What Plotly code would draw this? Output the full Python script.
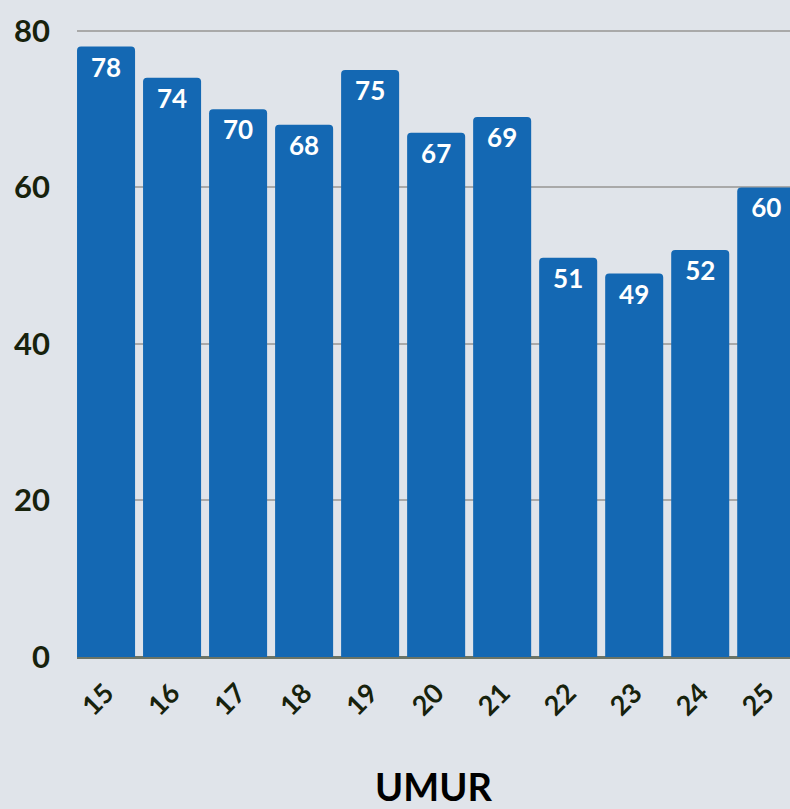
import plotly.graph_objects as go

ages = ["15", "16", "17", "18", "19", "20", "21", "22", "23", "24", "25"]
values = [78, 74, 70, 68, 75, 67, 69, 51, 49, 52, 60]
y_ticks = [0, 20, 40, 60, 80]

fig = go.Figure()
fig.add_trace(go.Bar(
    x=ages, y=values,
    marker=dict(color="#1468b3", cornerradius=4, line=dict(width=0)),
    text=[str(v) for v in values],
    textposition="inside",
    insidetextanchor="end",
    textangle=0,
    textfont=dict(family="Lato", size=26, color="white", weight="bold"),
    cliponaxis=True,
))

fig.update_layout(
    width=790, height=809,
    margin=dict(l=77, r=0, t=27, b=152),
    paper_bgcolor="#e0e4ea",
    plot_bgcolor="rgba(0,0,0,0)",
    bargap=0.121,
    showlegend=False,
    uniformtext=dict(minsize=26, mode="show"),
    xaxis=dict(
        type="category",
        range=[-0.44, 10.36],
        tickangle=-45,
        tickfont=dict(family="Lato", size=27, color="#17220c", weight="bold"),
        showgrid=False,
        showline=False,
        ticks="",
        ticklabelstandoff=14,
        title=dict(text="UMUR", font=dict(family="Lato", size=38, color="#000000", weight="bold"), standoff=54),
    ),
    yaxis=dict(
        range=[0, 80.5],
        tickvals=y_ticks,
        tickfont=dict(family="Lato", size=31, color="#17220c", weight="bold"),
        showgrid=True, gridcolor="#a9a9a9", gridwidth=2,
        zeroline=True, zerolinecolor="#6b7466", zerolinewidth=3,
        ticks="",
        ticklabelstandoff=26,
    ),
)

fig.write_html("out.html", config={"displayModeBar": False},
               post_script="document.body.style.margin='0';document.body.style.padding='0';")
